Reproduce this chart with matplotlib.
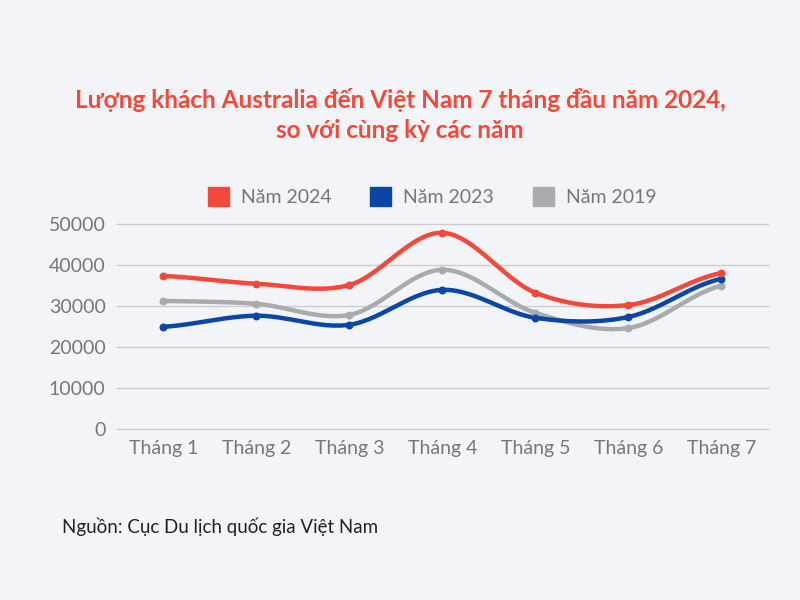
import matplotlib.pyplot as plt
import numpy as np

plt.rcParams["font.family"] = ["Lato", "DejaVu Sans"]

months = ["Tháng 1", "Tháng 2", "Tháng 3", "Tháng 4", "Tháng 5", "Tháng 6", "Tháng 7"]
y2024 = [37300, 35400, 35100, 47800, 33200, 30200, 38000]
y2023 = [24900, 27600, 25400, 33900, 27100, 27300, 36600]
y2019 = [31200, 30500, 27800, 38800, 28300, 24600, 34900]


def smooth(y, n=30):
    # Catmull-Rom spline through the points
    y = np.asarray(y, float)
    p = np.concatenate([[y[0]], y, [y[-1]]])
    xs, ys = [], []
    for i in range(len(y) - 1):
        p0, p1, p2, p3 = p[i], p[i + 1], p[i + 2], p[i + 3]
        t = np.linspace(0, 1, n)
        yy = 0.5 * (2 * p1 + (-p0 + p2) * t + (2 * p0 - 5 * p1 + 4 * p2 - p3) * t**2
                    + (-p0 + 3 * p1 - 3 * p2 + p3) * t**3)
        xs.append(i + t)
        ys.append(yy)
    return np.concatenate(xs), np.concatenate(ys)


fig = plt.figure(figsize=(8, 6), dpi=100)
fig.patch.set_facecolor("#f3f4f7")
ax = fig.add_axes([0.146, 0.285, 0.814, 0.342])
ax.set_facecolor("none")

series = [("Năm 2024", y2024, "#f4483a"), ("Năm 2023", y2023, "#0a45a8"), ("Năm 2019", y2019, "#a9a9ae")]
for label, ys, c in reversed(series):
    sx, sy = smooth(ys)
    ax.plot(sx, sy, color=c, lw=3.2, solid_capstyle="round")
    ax.scatter(range(len(ys)), ys, color=c, s=22, zorder=3)

ax.set_xlim(-0.5, 6.5)
ax.set_ylim(0, 50000)
ax.set_yticks(range(0, 50001, 10000))
ax.set_xticks(range(len(months)))
ax.set_xticklabels(months)
ax.tick_params(colors="#777777", labelsize=14, length=0, pad=8)
ax.grid(axis="y", color="#cccccc", lw=1, clip_on=False)
ax.set_axisbelow(True)
for s in ax.spines.values():
    s.set_visible(False)

handles = [plt.Rectangle((0, 0), 1, 1, color=c) for _, _, c in series]
fig.legend(handles, [l for l, _, _ in series], loc="center", bbox_to_anchor=(0.54, 0.672),
           ncol=3, frameon=False, fontsize=14, labelcolor="#777777",
           handlelength=1.1, handleheight=1.1, columnspacing=2.0, handletextpad=0.6)

fig.text(0.5, 0.833, "Lượng khách Australia đến Việt Nam 7 tháng đầu năm 2024,", ha="center",
         va="center", color="#f4483a", fontsize=17.5, fontweight="bold")
fig.text(0.5, 0.783, "so với cùng kỳ các năm", ha="center", va="center",
         color="#f4483a", fontsize=17.5, fontweight="bold")
fig.text(0.078, 0.122, "Nguồn: Cục Du lịch quốc gia Việt Nam", ha="left", va="center",
         color="#222222", fontsize=13.5)

fig.savefig("out.png", dpi=100, facecolor=fig.get_facecolor())
